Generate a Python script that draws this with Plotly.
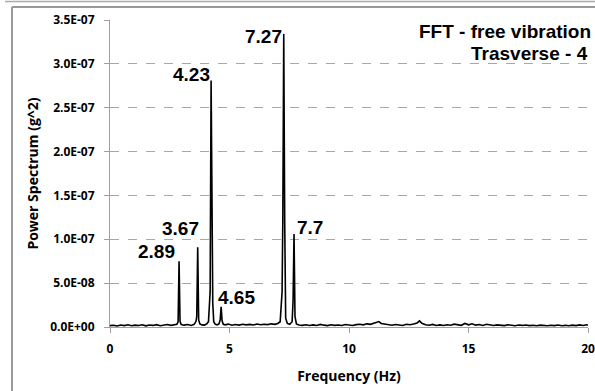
import plotly.graph_objects as go

# Frequency (Hz) and power spectrum (in units of 1e-9 g^2)
freq = [0.0, 0.15, 0.3, 0.45, 0.6, 0.75, 0.9, 1.05, 1.2, 1.35, 1.5, 1.65, 1.8, 1.95, 2.1, 2.25,
        2.4, 2.55, 2.7, 2.8, 2.85, 2.89, 2.93, 2.98, 3.1, 3.25, 3.4, 3.52, 3.6, 3.63, 3.67, 3.71,
        3.76, 3.85, 3.95, 4.05, 4.12, 4.19, 4.23, 4.27, 4.3, 4.34, 4.4, 4.48, 4.56, 4.61, 4.65,
        4.69, 4.74, 4.82, 4.95, 5.1, 5.25, 5.4, 5.55, 5.7, 5.85, 6.0, 6.15, 6.3, 6.45, 6.6, 6.75,
        6.9, 7.02, 7.12, 7.2, 7.23, 7.27, 7.31, 7.35, 7.42, 7.52, 7.62, 7.66, 7.70, 7.74, 7.8,
        7.9, 8.05, 8.2, 8.35, 8.5, 8.65, 8.8, 8.95, 9.1, 9.25, 9.4, 9.55, 9.7, 9.85, 10.0, 10.15,
        10.3, 10.45, 10.6, 10.75, 10.9, 11.05, 11.15, 11.25, 11.35, 11.5, 11.65, 11.8, 11.95,
        12.1, 12.25, 12.4, 12.55, 12.7, 12.85, 12.95, 13.05, 13.2, 13.35, 13.5, 13.65, 13.8,
        13.95, 14.1, 14.25, 14.4, 14.55, 14.7, 14.85, 15.0, 15.15, 15.3, 15.45, 15.6, 15.75,
        15.9, 16.05, 16.2, 16.35, 16.5, 16.65, 16.8, 16.95, 17.1, 17.25, 17.4, 17.55, 17.7,
        17.85, 18.0, 18.15, 18.3, 18.45, 18.6, 18.75, 18.9, 19.05, 19.2, 19.35, 19.5, 19.65,
        19.8, 19.95, 20.0]
power = [1.5, 2.0, 1.2, 2.3, 1.6, 2.6, 1.4, 2.1, 1.7, 2.5, 1.3, 2.2, 1.8, 2.7, 1.5, 2.4,
         2.9, 1.9, 2.6, 3.2, 6.0, 75.0, 6.5, 2.8, 2.1, 2.9, 1.8, 3.0, 6.5, 12.0, 91.0, 8.0,
         3.5, 2.4, 2.2, 3.6, 6.0, 40.0, 281.0, 30.0, 27.0, 6.0, 3.2, 2.5, 3.4, 8.0, 23.0,
         7.0, 3.0, 2.4, 3.3, 2.0, 2.8, 2.2, 3.1, 2.4, 3.0, 2.3, 3.4, 2.6, 3.2, 2.7, 3.6,
         3.0, 4.0, 6.0, 40.0, 120.0, 334.0, 120.0, 10.0, 4.0, 3.0, 6.0, 30.0, 106.0, 12.0, 3.5,
         2.2, 1.9, 2.6, 1.7, 2.4, 1.8, 3.0, 2.1, 1.6, 2.5, 1.9, 2.3, 1.7, 2.8, 2.2, 1.8,
         2.7, 3.2, 2.4, 3.6, 3.0, 4.2, 5.5, 6.2, 4.0, 3.3, 2.4, 2.0, 2.9,
         2.2, 1.8, 3.1, 2.6, 3.4, 4.6, 7.0, 4.2, 2.5, 2.0, 3.0, 1.8, 2.4,
         1.7, 2.6, 2.0, 3.2, 2.3, 1.9, 4.0, 2.5, 3.6, 2.1, 2.9, 1.8, 3.1,
         2.2, 1.7, 2.4, 2.0, 1.6, 2.5, 1.9, 1.5, 2.2, 1.8, 2.3, 1.6, 2.0,
         1.5, 2.1, 1.7, 1.4, 2.0, 1.6, 2.2, 1.5, 1.9, 1.4, 2.1, 1.6, 2.4,
         1.8, 2.6, 2.0]

peak_labels = ["2.89", "3.67", "4.23", "4.65", "7.27", "7.7"]

y_tickvals = [0, 0.5e-7, 1.0e-7, 1.5e-7, 2.0e-7, 2.5e-7, 3.0e-7, 3.5e-7]
y_ticktext = ["0.0E+00", "5.0E-08", "1.0E-07", "1.5E-07", "2.0E-07", "2.5E-07", "3.0E-07", "3.5E-07"]
x_tickvals = [0, 5, 10, 15, 20]

title_lines = ["FFT - free vibration", "Trasverse - 4"]

yvals = [p * 1e-9 for p in power]

# figure size and plot area in pixels; paper spans the whole figure (zero margins)
FW, FH = 595, 391
L, R, T, B = 110, 588, 20, 327


def px(x):
    return x / FW


def py(y):
    return (FH - y) / FH


fig = go.Figure()
fig.add_trace(go.Scatter(x=freq, y=yvals, mode="lines",
                         line=dict(color="black", width=1.6), hoverinfo="skip",
                         showlegend=False))

# label centres (figure pixels)
label_pos = {
    "2.89": (156, 251),
    "3.67": (181, 228),
    "4.23": (191, 74),
    "4.65": (236, 297),
    "7.27": (263, 36),
    "7.7": (310, 227),
}
afont = dict(family="Liberation Sans, Arial", size=19, color="black", weight="bold")
for lab in peak_labels:
    x, y = label_pos[lab]
    fig.add_annotation(xref="paper", yref="paper", x=px(x), y=py(y), text=lab,
                       showarrow=False, xanchor="center", yanchor="middle", font=afont)

tfont = dict(family="Liberation Sans, Arial", size=19, color="black", weight="bold")
fig.add_annotation(xref="paper", yref="paper", x=px(593), y=py(31),
                   text=title_lines[0], showarrow=False,
                   xanchor="right", yanchor="middle", font=tfont)
fig.add_annotation(xref="paper", yref="paper", x=px(590), y=py(53),
                   text=title_lines[1], showarrow=False,
                   xanchor="right", yanchor="middle", font=tfont)

# chart borders
border_color = "#999999"
fig.add_shape(type="line", xref="paper", yref="paper", layer="above",
              x0=px(12), x1=px(12), y0=0, y1=py(7),
              line=dict(color=border_color, width=2))
fig.add_shape(type="line", xref="paper", yref="paper", layer="above",
              x0=px(12), x1=1, y0=py(7), y1=py(7),
              line=dict(color=border_color, width=2))
fig.add_shape(type="line", xref="paper", yref="paper", layer="above",
              x0=px(5), x1=1, y0=py(1.5), y1=py(1.5),
              line=dict(color="#aaaaaa", width=1.5))

tickfont = dict(family="Open Sans", size=12, color="black", weight="bold")
fig.update_xaxes(range=[0, 20], tickvals=x_tickvals, domain=[L / FW, R / FW],
                 ticktext=[str(v) for v in x_tickvals], automargin=False,
                 showgrid=False, zeroline=False, showline=True, linecolor="#a0a0a0",
                 linewidth=1, ticks="outside", ticklen=5, tickcolor="#a0a0a0",
                 tickfont=tickfont, ticklabelstandoff=6,
                 title=dict(text="Frequency (Hz)",
                            font=dict(family="Open Sans", size=14, color="black", weight="bold"),
                            standoff=14))
fig.update_yaxes(range=[0, 3.5e-7], tickvals=y_tickvals, domain=[(FH - B) / FH, (FH - T) / FH],
                 ticktext=y_ticktext, automargin=False,
                 showgrid=True, gridcolor="#a8a8a8", griddash="dash", gridwidth=1,
                 zeroline=False, showline=True, linecolor="#a0a0a0", linewidth=1,
                 ticks="outside", ticklen=5, tickcolor="#a0a0a0",
                 tickfont=tickfont, ticklabelstandoff=7,
                 title=dict(text="Power Spectrum (g^2)",
                            font=dict(family="Open Sans", size=14, color="black", weight="bold"),
                            standoff=8))

fig.update_layout(width=FW, height=FH, autosize=False,
                  margin=dict(l=0, r=0, t=0, b=0, autoexpand=False),
                  paper_bgcolor="white", plot_bgcolor="white")

fig.write_html("out.html")
